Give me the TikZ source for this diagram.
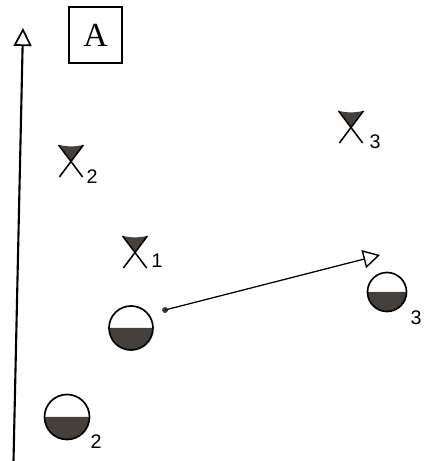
\documentclass[tikz,border=0pt]{standalone}
\usepackage{fontspec}
\setmainfont{Liberation Serif}
\newfontfamily\labelfont{Liberation Sans}
\usetikzlibrary{arrows.meta}
\definecolor{soil}{HTML}{45403B}
\tikzset{
  axis/.style={line width=1.5pt, -{Triangle[open, length=0.45cm, width=0.45cm, line width=1.2pt]}},
  move/.style={line width=0.9pt, -{Triangle[open, length=0.42cm, width=0.46cm, line width=1pt]}},
  leg/.style={line width=1.1pt},
  rim/.style={line width=1.2pt},
  tag/.style={font=\labelfont\fontsize{14}{16}\selectfont, inner sep=0pt},
  letterbox/.style={draw, line width=0.9pt, minimum width=1.325cm, minimum height=1.4cm,
    font=\fontsize{24}{26}\selectfont, inner sep=0pt}
}
% tripod: filled cone on crossed legs, #1 = top centre
\newcommand{\tripodmark}[1]{%
  \begin{scope}[shift={(#1)}]
  \fill[soil] (-0.31,0) .. controls (0,-0.05) .. (0.31,0) -- (0,-0.4) -- cycle;
  \draw[leg] (-0.31,0) -- (0.29,-0.8);
  \draw[leg] (0.31,0) -- (-0.29,-0.8);
  \end{scope}}
% half filled disc, #1 = centre, #2 = radius
\newcommand{\halfdisc}[2]{%
  \fill[soil] ($(#1)+(-#2,0)$) arc (180:360:#2) -- cycle;
  \draw[rim] (#1) circle (#2);}
\usetikzlibrary{calc}
\begin{document}
\begin{tikzpicture}
\useasboundingbox (0,0) rectangle (10.75,11.525);
\coordinate (Bot) at (0.3375,0);
\coordinate (Top) at (0.575,10.825);
\draw[axis] (Bot) -- (Top);
\node[letterbox] (A) at (2.3875,10.65) {A};
\coordinate (T1) at (3.375,5.625);
\coordinate (T2) at (1.775,7.9);
\coordinate (T3) at (8.775,8.75);
\tripodmark{T1}
\tripodmark{T2}
\tripodmark{T3}
\node[tag] (t1) at (3.925,5.0) {1};
\node[tag] (t2) at (2.3,7.1) {2};
\node[tag] (t3) at (9.375,7.975) {3};
\coordinate (C1) at (3.275,3.325);
\coordinate (C2) at (1.675,1.1);
\coordinate (C3) at (9.675,4.225);
\halfdisc{C1}{0.55}
\halfdisc{C2}{0.5625}
\halfdisc{C3}{0.4875}
\node[tag] (c2) at (2.4,0.475) {2};
\node[tag] (c3) at (10.4,3.575) {3};
\coordinate (D) at (4.125,3.775);
\coordinate (E) at (9.5,5.15);
\fill[soil] (D) circle (0.075);
\draw[move] (D) -- (E);
\end{tikzpicture}
\end{document}
